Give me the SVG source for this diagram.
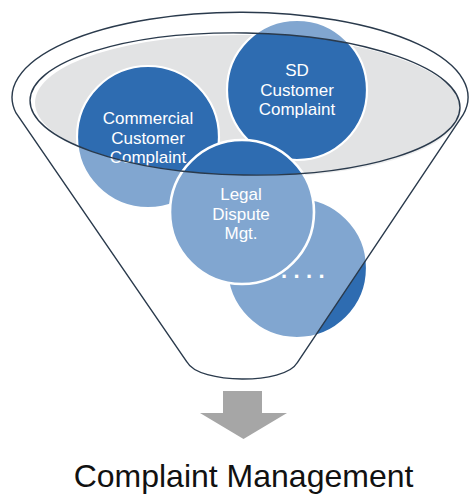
<svg xmlns="http://www.w3.org/2000/svg" width="469" height="495" viewBox="0 0 469 495">
  <style>
    .bubble { fill: #2e6cb1; stroke: #ffffff; stroke-width: 2.2; }
    .label { font-family: "Liberation Sans", Arial, sans-serif; font-size: 17px; fill: #ffffff; text-anchor: middle; }
    .dots { font-family: "Liberation Sans", Arial, sans-serif; font-size: 22px; font-weight: bold; fill: #ffffff; letter-spacing: 6.4px; }
    .rim { fill: none; stroke: #2a3a4c; stroke-width: 1.4; }
    .title { font-family: "Liberation Sans", Arial, sans-serif; font-size: 32px; fill: #111111; text-anchor: middle; }
  </style>

  <!-- funnel mouth: grey surface -->
  <g id="funnel-mouth">
    <ellipse cx="248" cy="106" rx="213" ry="71" transform="rotate(1 248 106)" fill="#e2e3e4"/>
  </g>

  <!-- bubbles -->
  <g id="node-sd">
    <circle class="bubble" cx="297" cy="90" r="70"/>
    <text class="label" x="297" y="76">SD</text>
    <text class="label" x="297" y="95.5">Customer</text>
    <text class="label" x="297" y="115">Complaint</text>
  </g>
  <g id="node-commercial">
    <circle class="bubble" cx="148" cy="137" r="71"/>
    <text class="label" x="148" y="124">Commercial</text>
    <text class="label" x="148" y="143.5">Customer</text>
    <text class="label" x="148" y="163">Complaint</text>
  </g>
  <g id="node-more">
    <circle class="bubble" cx="297" cy="268" r="70"/>
    <text class="dots" x="281" y="278">....</text>
  </g>
  <g id="node-legal">
    <circle class="bubble" cx="242" cy="212" r="72" style="stroke-width:2.6"/>
    <text class="label" x="241" y="200">Legal</text>
    <text class="label" x="241" y="219.5">Dispute</text>
    <text class="label" x="241" y="239">Mgt.</text>
  </g>

  <!-- funnel body: translucent wall with the mouth cut out -->
  <g id="funnel-body">
    <path fill="#ffffff" fill-opacity="0.4" fill-rule="evenodd"
          d="M16,113 A228,85 0 1 1 463,115 L297,363 C285,384.5 199,384.5 187,362 Z
             M30,100.2 A215,71 1 1 1 460,107.8 A215,71 1 1 1 30,100.2 Z"/>
    <path class="rim" d="M16,113 A228,85 0 1 1 463,115 L297,363 C285,384.5 199,384.5 187,362 Z"/>
    <ellipse class="rim" cx="245" cy="104" rx="215" ry="71" transform="rotate(1 245 104)"/>
  </g>

  <!-- output arrow -->
  <g id="connectors">
    <path fill="#a6a6a6" d="M223,391 L262,391 L262,413 L287,413 L243.5,439 L200,413 L223,413 Z"/>
  </g>

  <g id="title">
    <text class="title" x="243.5" y="487">Complaint Management</text>
  </g>
</svg>
